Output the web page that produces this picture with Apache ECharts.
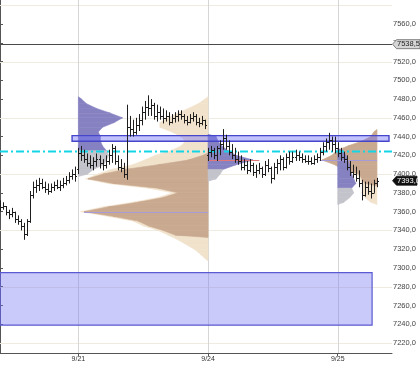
<!DOCTYPE html>
<html><head><meta charset="utf-8">
<script src="https://cdn.jsdelivr.net/npm/echarts@6/dist/echarts.min.js"></script>
<style>html,body{margin:0;padding:0;background:#fff}#c{width:420px;height:368px}</style>
</head><body><div id="c"></div>
<script>
// ---------- data ----------
const sessionStarts = [26, 69, 112];
const sessionLabels = ['9/21', '9/24', '9/25'];
const yLabelValues = [7220,7240,7260,7280,7300,7320,7340,7360,7380,7400,7420,7440,7460,7480,7500,7520,7540,7560];
const yTickValues = yLabelValues.concat([7580]);
const gridLevels = [7220,7280,7340,7400,7460,7520,7580];
const refLevel = 7538.5;
const lastPrice = 7393;
const cyanLevel = 7425;
// zones: [fromBar, toBar, high, low]
const zoneBand = [23.9, 129, 7441, 7435];
const zoneBox = [0, 123.4, 7295, 7239];
// OHLC bars [open, high, low, close]
const ohlc = [
[7366,7372,7360,7365],[7365,7370,7362,7366],[7366,7366,7356,7360],[7360,7362,7352,7358],[7358,7364,7354,7360],
[7360,7360,7348,7352],[7352,7356,7346,7350],[7350,7352,7340,7345],[7345,7348,7330,7336],[7336,7352,7334,7350],
[7350,7382,7348,7378],[7378,7392,7374,7386],[7386,7394,7380,7388],[7388,7396,7382,7390],[7390,7395,7384,7386],
[7386,7392,7380,7384],[7384,7390,7378,7382],[7382,7390,7380,7386],[7386,7392,7382,7388],[7388,7394,7384,7386],
[7386,7393,7382,7388],[7388,7396,7385,7390],[7390,7398,7388,7394],[7394,7402,7390,7398],[7398,7405,7394,7400],
[7400,7408,7392,7398],
// 9/21
[7405,7428,7400,7422],[7422,7430,7414,7420],[7420,7426,7412,7416],[7416,7422,7408,7412],[7412,7420,7406,7410],
[7410,7418,7404,7414],[7414,7422,7408,7416],[7416,7420,7406,7412],[7412,7416,7404,7410],[7410,7420,7406,7414],
[7414,7426,7410,7420],[7420,7432,7412,7428],[7428,7430,7410,7414],[7414,7420,7404,7408],[7408,7416,7402,7406],
[7406,7412,7396,7400],[7400,7474,7394,7450],[7450,7462,7440,7448],[7448,7458,7440,7445],[7445,7460,7442,7452],
[7452,7464,7446,7458],[7458,7472,7452,7466],[7466,7478,7458,7472],[7472,7484,7462,7470],[7470,7480,7462,7474],
[7474,7476,7458,7462],[7462,7474,7456,7466],[7466,7472,7458,7462],[7462,7470,7454,7460],[7460,7468,7456,7462],
[7462,7466,7452,7456],[7456,7464,7454,7460],[7460,7466,7455,7462],[7462,7468,7456,7464],[7464,7468,7458,7462],
[7462,7464,7454,7458],[7458,7462,7452,7456],[7456,7464,7454,7460],[7460,7466,7456,7462],[7462,7464,7452,7456],
[7456,7460,7450,7454],[7454,7462,7452,7458],[7458,7458,7448,7452],
// 9/24
[7420,7428,7414,7424],[7424,7430,7418,7426],[7426,7428,7416,7420],[7420,7430,7414,7428],[7428,7436,7420,7432],
[7432,7448,7426,7438],[7438,7442,7426,7430],[7430,7436,7420,7424],[7424,7432,7416,7420],[7420,7428,7412,7416],
[7416,7424,7410,7414],[7414,7420,7404,7408],[7408,7416,7404,7410],[7410,7414,7400,7404],[7404,7416,7402,7410],
[7410,7412,7398,7402],[7402,7410,7396,7404],[7404,7412,7400,7406],[7406,7408,7396,7400],[7400,7414,7398,7410],
[7410,7416,7402,7406],[7406,7408,7390,7396],[7396,7412,7394,7408],[7408,7416,7400,7412],[7412,7420,7404,7416],
[7416,7418,7404,7408],[7408,7422,7406,7418],[7418,7424,7410,7414],[7414,7424,7412,7418],[7418,7426,7414,7420],
[7420,7424,7414,7418],[7418,7422,7412,7416],[7416,7420,7412,7414],[7414,7420,7410,7414],[7414,7418,7410,7412],
[7412,7420,7410,7416],[7416,7422,7412,7418],[7418,7428,7414,7424],[7424,7434,7420,7430],[7430,7438,7424,7434],
[7434,7444,7426,7436],[7436,7440,7424,7432],[7432,7440,7422,7428],
// 9/25
[7428,7434,7418,7422],[7422,7428,7414,7418],[7418,7424,7412,7416],[7416,7420,7404,7408],[7408,7414,7398,7402],
[7402,7410,7396,7400],[7400,7408,7392,7396],[7396,7404,7386,7390],[7390,7394,7372,7378],[7378,7392,7376,7386],
[7386,7392,7378,7382],[7382,7390,7374,7380],[7380,7394,7380,7390],[7390,7396,7386,7393]
];
// volume profiles (width in bars, price levels descending from top in steps of PSTEP)
const PSTEP = 5;
const p1PurpleTop = 7480, p1PurpleSplit = 7430;
const p1Purple = [1.0,2.7,6.0,10.6,14.6,11.9,8.0,6.6,7.3,7.3,8.0,9.3,10.0,9.3,8.3,5.0,3.0];
const p1LightTop = 7480;
const p1Light = [1.0,3.3,6.6,10.0,13.3,16.0,16.0,12.0,9.0,7.5,9.0,12.5,17.5,21.0,25.0,32.0,36.5,40.5,33.2,19.9,11.6,16.6,24.9,34.8,42.2,33.2,24.9,21.6,16.6,13.3,10.0,7.3,4.6,2.7,1.0];
const p1DarkTop = 7420;
const p1Dark = [1.7,6.6,16.6,27.5,34.8,39.8,31.5,16.6,10.0,14.9,23.2,33.2,41.1,31.5,23.2,19.9,14.9,10.9];
const p2PurpleTop = 7440, p2PurpleSplit = 7410;
const p2Purple = [2.7,3.3,4.6,6.6,9.3,14.9,9.3,5.0,4.0,2.7];
const p3PurpleTop = 7425, p3PurpleSplit = 7390;
const p3Purple = [1.7,2.7,3.3,4.0,4.0,4.6,5.3,6.0,4.6,5.3,4.0,2.0];
const p3DarkTop = 7445;
const p3Dark = [1.0,2.0,5.0,9.6,13.3,14.9,18.2,13.9,11.6,6.0,5.0,4.0];
const p3LightTop = 7445;
const p3Light = [1.0,2.0,5.0,9.6,13.3,14.9,18.2,13.9,11.6,6.6,5.6,5.0,4.6,5.0,4.0,2.0];
// POC lines [level, fromBar, toBar, colorIdx]
const pocLines = [[7360, 27.9, 69, 0], [7415, 69, 86, 1], [7415, 106, 125, 0]];

// ---------- build ----------
const PAL = ['#f1e2cc', '#c9aa90', '#8682c2', '#c3c3cb'];
const POC_PAL = ['#a79ad8', '#e27878'];
const fmt = v => v.toFixed(1).replace('.', ',');
const segItems = [];
function addProfile(anchor, dir, top, widths, colorFn) {
  const bottom = top - (widths.length - 1) * PSTEP;
  const pts = [[top + PSTEP / 2, 0]]
    .concat(widths.map((w, k) => [top - k * PSTEP, w]))
    .concat([[bottom - PSTEP / 2, 0]]);
  for (let k = 0; k < pts.length - 1; k++) {
    const mid = (pts[k][0] + pts[k + 1][0]) / 2;
    segItems.push([anchor, pts[k][0], pts[k][1], pts[k + 1][0], pts[k + 1][1], dir, colorFn(mid)]);
  }
}
const s3End = ohlc.length - 1;
addProfile(sessionStarts[1], -1, p1LightTop, p1Light, () => 0);
addProfile(sessionStarts[1], -1, p1DarkTop, p1Dark, () => 1);
addProfile(sessionStarts[0], 1, p1PurpleTop, p1Purple, m => m >= p1PurpleSplit - 2.5 ? 2 : 3);
addProfile(sessionStarts[1], 1, p2PurpleTop, p2Purple, m => m >= p2PurpleSplit - 2.5 ? 2 : 3);
addProfile(s3End, -1, p3LightTop, p3Light, () => 0);
addProfile(s3End, -1, p3DarkTop, p3Dark, () => 1);
addProfile(sessionStarts[2], 1, p3PurpleTop, p3Purple, m => m >= p3PurpleSplit - 2.5 ? 2 : 3);

const chart = echarts.init(document.getElementById('c'), null, {renderer: 'canvas'});
const FONT = 'Liberation Sans';

function renderProfile(params, api) {
  const a = api.value(0), lvA = api.value(1), wA = api.value(2), lvB = api.value(3), wB = api.value(4);
  const dir = api.value(5), ci = api.value(6);
  const pts = [api.coord([a, lvA]), api.coord([a + dir * wA, lvA]), api.coord([a + dir * wB, lvB]), api.coord([a, lvB])];
  return {type: 'polygon', shape: {points: pts}, style: {fill: PAL[ci], stroke: PAL[ci], lineWidth: 0.6}};
}
function renderBar(params, api) {
  const i = api.value(0);
  const ph = api.coord([i, api.value(2)]), pl = api.coord([i, api.value(3)]);
  const po = api.coord([i, api.value(1)]), pc = api.coord([i, api.value(4)]);
  const x = Math.round(ph[0]) + 0.5;
  const st = {stroke: '#1e1e1e', lineWidth: 1};
  return {type: 'group', children: [
    {type: 'line', shape: {x1: x, y1: ph[1], x2: x, y2: pl[1]}, style: st},
    {type: 'line', shape: {x1: x - 1.5, y1: Math.round(po[1]) + 0.5, x2: x, y2: Math.round(po[1]) + 0.5}, style: st},
    {type: 'line', shape: {x1: x, y1: Math.round(pc[1]) + 0.5, x2: x + 1.5, y2: Math.round(pc[1]) + 0.5}, style: st}
  ]};
}
function renderHGrid(params, api) {
  const cs = params.coordSys; const y = Math.round(api.coord([0, api.value(0)])[1]) + 0.5;
  return {type: 'line', shape: {x1: cs.x, y1: y, x2: cs.x + cs.width, y2: y}, style: {stroke: '#efebe1', lineWidth: 1}};
}
function renderVGrid(params, api) {
  const cs = params.coordSys; const x = Math.round(api.coord([api.value(0), 7400])[0]) + 0.5;
  return {type: 'line', shape: {x1: x, y1: cs.y, x2: x, y2: cs.y + cs.height}, style: {stroke: '#d6d6d6', lineWidth: 1}};
}
function renderZone(params, api) {
  const p1 = api.coord([api.value(0), api.value(2)]), p2 = api.coord([api.value(1), api.value(3)]);
  const kind = api.value(4);
  const style = kind === 0
    ? {fill: 'rgba(120,120,243,0.40)', stroke: '#5a5ad2', lineWidth: 1.2}
    : {fill: 'rgba(110,110,250,0.42)', stroke: '#4646cc', lineWidth: 1.4};
  return {type: 'rect', shape: {x: p1[0], y: p1[1], width: p2[0] - p1[0], height: p2[1] - p1[1]}, style: style};
}
function renderHLine(params, api) {
  const cs = params.coordSys; const y = Math.round(api.coord([0, api.value(0)])[1]) + 0.5;
  const kind = api.value(1);
  const style = kind === 0
    ? {stroke: '#12d6e6', lineWidth: 2, lineDash: [8, 3, 2, 3]}
    : {stroke: '#4a4a4a', lineWidth: 1};
  return {type: 'line', shape: {x1: cs.x, y1: y, x2: cs.x + cs.width, y2: y}, style: style};
}
function renderPoc(params, api) {
  const p1 = api.coord([api.value(1), api.value(0)]), p2 = api.coord([api.value(2), api.value(0)]);
  const y = Math.round(p1[1]) + 0.5;
  return {type: 'line', shape: {x1: p1[0], y1: y, x2: p2[0], y2: y}, style: {stroke: POC_PAL[api.value(3)], lineWidth: 1}};
}
function renderTag(params, api) {
  const cs = params.coordSys; const v = api.value(0); const kind = api.value(1);
  const y = api.coord([0, v])[1]; const x0 = cs.x + cs.width + 0.5;
  const h = 4.5;
  const fill = kind === 0 ? '#d6d6d6' : '#111';
  const tc = kind === 0 ? '#222' : '#fff';
  const right = kind === 0 ? 420 : 417;
  return {type: 'group', children: [
    {type: 'polygon', shape: {points: [[x0, y], [x0 + 4, y - h], [right, y - h], [right, y + h], [x0 + 4, y + h]]},
      style: {fill: fill, stroke: kind === 0 ? '#666' : '#111', lineWidth: 0.8}},
    {type: 'text', style: {text: fmt(v), x: x0 + 4.5, y: y, verticalAlign: 'middle', align: 'left',
      font: '7.5px ' + FONT, fill: tc}}
  ]};
}

chart.setOption({
  animation: false,
  grid: {left: 0, right: 28, top: 0, bottom: 15, containLabel: false},
  xAxis: {
    type: 'value', min: 0, max: 130,
    axisLine: {show: true, onZero: false, lineStyle: {color: '#555', width: 1}},
    axisTick: {show: true, length: 3, customValues: sessionStarts, lineStyle: {color: '#555'}},
    axisLabel: {customValues: sessionStarts, formatter: v => sessionLabels[sessionStarts.indexOf(v)] || '',
      fontSize: 7, fontFamily: FONT, color: '#333', margin: 3},
    splitLine: {show: false}
  },
  yAxis: {
    type: 'value', position: 'right', min: 7209.3, max: 7585.6, scale: true,
    axisLine: {show: true, lineStyle: {color: '#555', width: 1}},
    axisTick: {show: true, length: 3, customValues: yTickValues, lineStyle: {color: '#555'}},
    axisLabel: {customValues: yLabelValues, formatter: v => fmt(v), fontSize: 7.5, fontFamily: FONT, color: '#444', margin: 1},
    splitLine: {show: false}
  },
  series: [
    {type: 'custom', name: 'hgrid', z: 1, renderItem: renderHGrid, data: gridLevels.map(v => [v]), silent: true},
    {type: 'custom', name: 'vgrid', z: 1, renderItem: renderVGrid, data: sessionStarts.map(v => [v]), silent: true},
    {type: 'custom', name: 'profiles', z: 2, renderItem: renderProfile, data: segItems, encode: {x: 0, y: 1}, silent: true},
    {type: 'custom', name: 'poc', z: 3, renderItem: renderPoc, data: pocLines, silent: true},
    {type: 'custom', name: 'zones', z: 4, renderItem: renderZone,
      data: [zoneBox.concat([0]), zoneBand.concat([1])], silent: true},
    {type: 'custom', name: 'levels', z: 5, renderItem: renderHLine, data: [[cyanLevel, 0], [refLevel, 1]], silent: true},
    {type: 'custom', name: 'bars', z: 6, renderItem: renderBar, data: ohlc.map((d, i) => [i].concat(d)), silent: true},
    {type: 'custom', name: 'tags', z: 10, renderItem: renderTag, data: [[refLevel, 0], [lastPrice, 1]], silent: true}
  ]
});
</script></body></html>
